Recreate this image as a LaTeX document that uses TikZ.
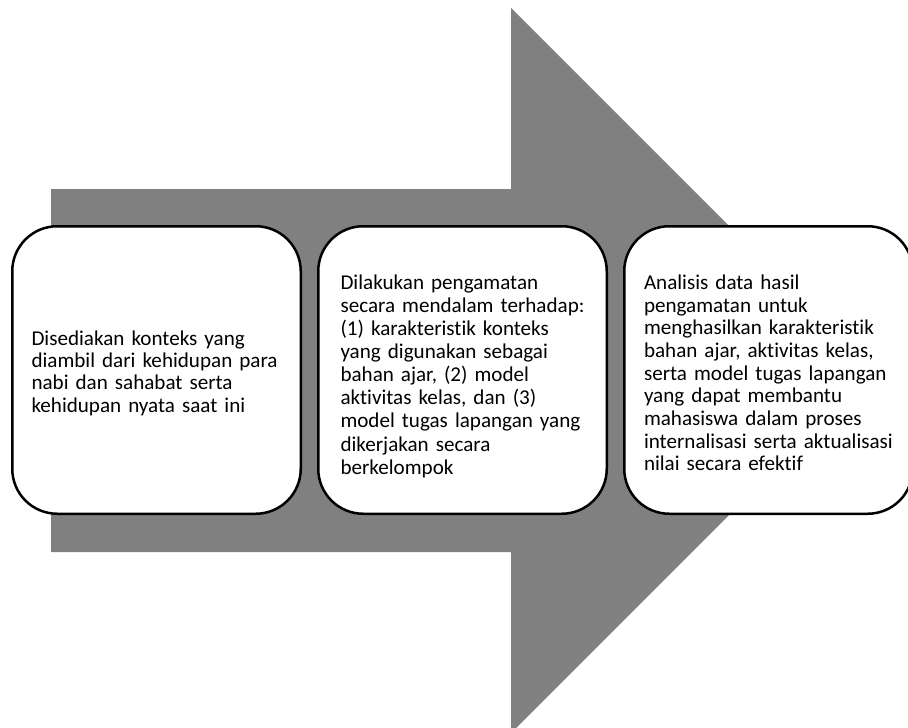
\documentclass[tikz,border=0pt]{standalone}
\usepackage{fontspec}
\setmainfont{Carlito}[Ligatures={NoCommon}]
\definecolor{arrowgray}{HTML}{808080}
\begin{document}
\begin{tikzpicture}[x=1pt,y=-1pt,
  stepbox/.style={draw=black, line width=2.5pt, fill=white, rounded corners=45pt,
    minimum width=288.5pt, minimum height=287.5pt, inner sep=0pt, outer sep=0pt,
    anchor=north west},
  boxtext/.style={anchor=north west, inner sep=0pt, outer sep=0pt, align=left,
    text width=285pt, font=\fontsize{21.1}{22.9}\selectfont}]
\clip (0,0) rectangle (908,728);
\fill[white] (0,0) rectangle (908,728);
% big arrow
\coordinate (a1) at (51,189);
\coordinate (a2) at (511,189);
\coordinate (a3) at (511,8);
\coordinate (tip) at (873.5,370.5);
\coordinate (a5) at (511,733);
\coordinate (a6) at (511,552);
\coordinate (a7) at (51,552);
\fill[arrowgray] (a1) -- (a2) -- (a3) -- (tip) -- (a5) -- (a6) -- (a7) -- cycle;
% boxes
\node[stepbox] (b1) at (12.25,226.25) {};
\node[stepbox] (b2) at (318.25,226.25) {};
\node[stepbox] (b3) at (624.25,226.25) {};
% texts
\node[boxtext, font=\fontsize{21.1}{22.4}\selectfont] (t1) at (31.5,327.1) {\rule{0pt}{18pt}Disediakan konteks yang\\diambil dari kehidupan para\\nabi dan sahabat serta\\kehidupan nyata saat ini};
\node[boxtext, font=\fontsize{21.1}{23.1}\selectfont] (t2) at (340.5,271.3) {\rule{0pt}{18pt}Dilakukan pengamatan\\secara mendalam terhadap:\\(1) karakteristik konteks\\yang digunakan sebagai\\bahan ajar, (2) model\\aktivitas kelas, dan (3)\\model tugas lapangan yang\\dikerjakan secara\\berkelompok};
\node[boxtext, font=\fontsize{21.1}{22.7}\selectfont] (t3) at (644,271.3) {\rule{0pt}{18pt}Analisis data hasil\\pengamatan untuk\\menghasilkan karakteristik\\bahan ajar, aktivitas kelas,\\serta model tugas lapangan\\yang dapat membantu\\mahasiswa dalam proses\\internalisasi serta aktualisasi\\nilai secara efektif};
\end{tikzpicture}
\end{document}
